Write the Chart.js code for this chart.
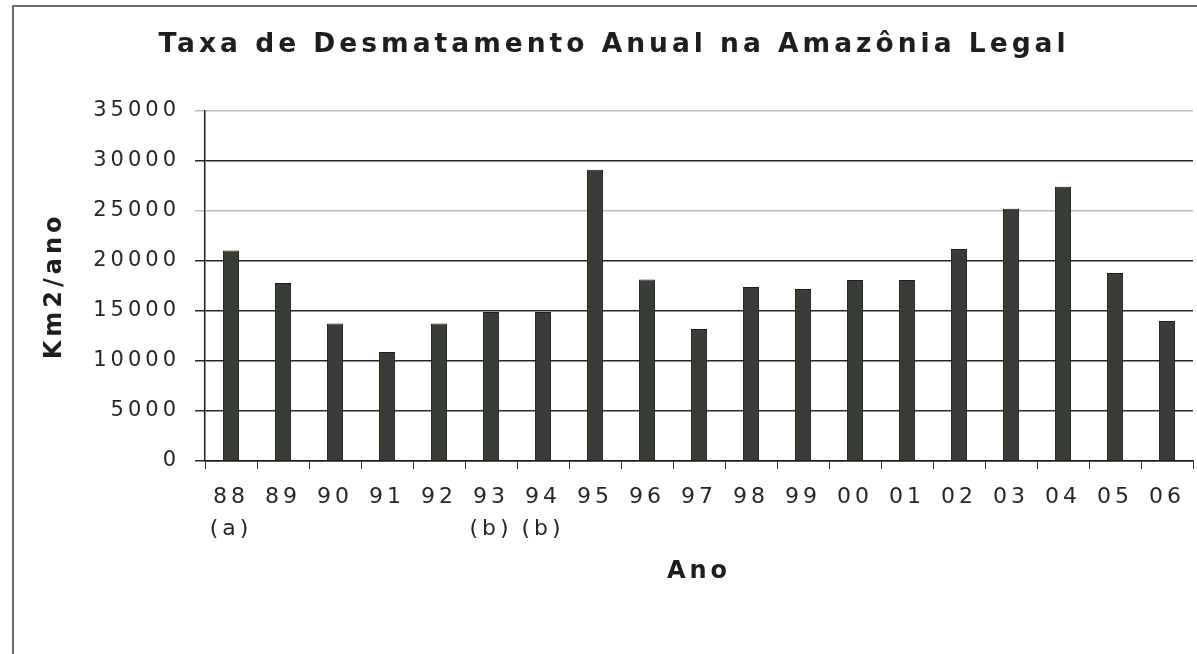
<!DOCTYPE html>
<html>
<head>
<meta charset="utf-8">
<script src="https://cdn.jsdelivr.net/npm/chart.js@4/dist/chart.umd.min.js"></script>
<style>
  html, body { margin: 0; padding: 0; background: #ffffff; overflow: hidden; }
  #wrap { position: relative; width: 1197px; height: 654px; }
  #frame { position: absolute; left: 12px; top: 5px; width: 1300px; height: 700px;
           border-left: 2px solid #6a6a6a; border-top: 2px solid #6a6a6a; }
  canvas { position: absolute; left: 0; top: 0; }
</style>
</head>
<body>
<div id="wrap">
  <div id="frame"></div>
  <canvas id="c" width="1197" height="654"></canvas>
</div>
<script>
const chartTitle = 'Taxa de Desmatamento Anual na Amazônia Legal';
const years = ['88','89','90','91','92','93','94','95','96','97','98','99','00','01','02','03','04','05','06'];
const notes = ['(a)','','','','','(b)','(b)','','','','','','','','','','','',''];
const deforestation = [21050, 17800, 13750, 10900, 13750, 14900, 14900, 29100, 18150, 13200, 17400, 17200, 18100, 18100, 21200, 25200, 27400, 18800, 14000];
const yTicks = [0, 5000, 10000, 15000, 20000, 25000, 30000, 35000];
const lightGrid = [25000, 35000];

const labels = years.map((y, i) => notes[i] ? [y, notes[i]] : y);

const SPACING = '4px';
const spacingPlugin = {
  id: 'spacing',
  beforeUpdate(chart) { chart.ctx.letterSpacing = SPACING; },
  beforeLayout(chart) { chart.ctx.letterSpacing = SPACING; },
  beforeDraw(chart) { chart.ctx.letterSpacing = SPACING; }
};

const FONT = "'DejaVu Sans', Verdana, sans-serif";
const PAD_LEFT = 31;

new Chart(document.getElementById('c'), {
  type: 'bar',
  data: {
    labels: labels,
    datasets: [{
      data: deforestation,
      backgroundColor: '#383d36',
      borderColor: '#1a1d1a',
      borderWidth: 1,
      barPercentage: 0.31,
      categoryPercentage: 1.0
    }]
  },
  plugins: [spacingPlugin],
  options: {
    responsive: false,
    animation: false,
    devicePixelRatio: 1,
    layout: { padding: { top: 14, left: PAD_LEFT, right: 0, bottom: 0 } },
    plugins: {
      legend: { display: false },
      tooltip: { enabled: false },
      title: {
        display: true,
        text: chartTitle,
        color: '#1e1e1e',
        font: { family: FONT, size: 26.5, weight: 'bold', lineHeight: 1.2 },
        padding: { top: 15, bottom: 50 }
      }
    },
    scales: {
      x: {
        offset: true,
        afterFit(s) { s.height = 654 - 461; },
        grid: {
          display: true,
          offset: true,
          drawOnChartArea: false,
          drawTicks: true,
          tickLength: 8,
          color: '#333333',
          lineWidth: 1
        },
        border: { display: true, color: '#1e1e1e', width: 1.5 },
        ticks: {
          color: '#262626',
          padding: 12,
          maxRotation: 0,
          autoSkip: false,
          font: { family: FONT, size: 22, lineHeight: 1.45 }
        },
        title: {
          display: true,
          text: 'Ano',
          color: '#1e1e1e',
          font: { family: FONT, size: 24, weight: 'bold', lineHeight: 1.2 },
          padding: { top: 0, bottom: 67.6 }
        }
      },
      y: {
        min: 0,
        max: 35000,
        afterFit(s) { s.width = 205 - PAD_LEFT; },
        afterBuildTicks(s) { s.ticks = yTicks.map(v => ({ value: v })); },
        grid: {
          drawTicks: true,
          tickLength: 10,
          lineWidth: 1.5,
          color: ctx => lightGrid.includes(ctx.tick && ctx.tick.value) ? '#bdbdbd' : '#262626'
        },
        border: { display: true, color: '#1e1e1e', width: 1.5 },
        ticks: {
          color: '#262626',
          padding: 15,
          font: { family: FONT, size: 21 },
          callback: v => String(v)
        },
        title: {
          display: true,
          text: 'Km2/ano',
          color: '#1e1e1e',
          font: { family: FONT, size: 24, weight: 'bold', lineHeight: 1.2 },
          padding: { top: 9.6, bottom: 0 }
        }
      }
    }
  }
});
</script>
</body>
</html>
